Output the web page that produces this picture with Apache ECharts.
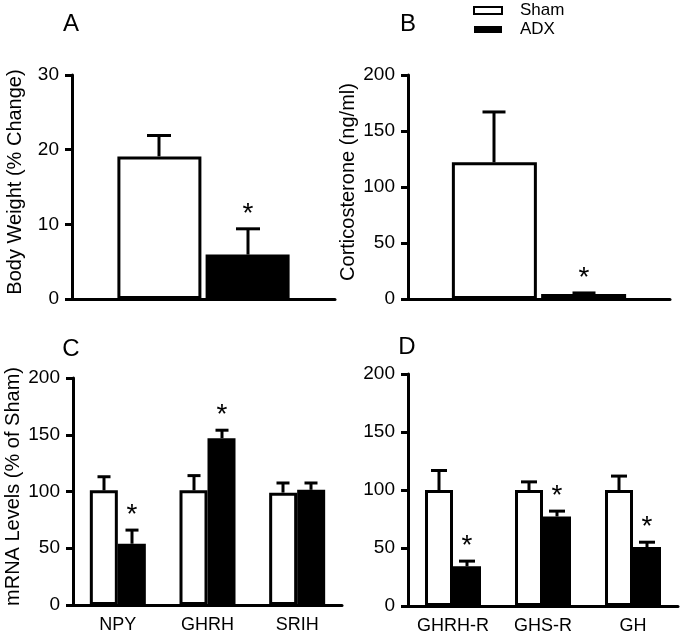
<!DOCTYPE html>
<html><head><meta charset="utf-8">
<script src="https://cdn.jsdelivr.net/npm/echarts@6/dist/echarts.min.js"></script>
<style>html,body{margin:0;padding:0;background:#fff}#main{width:681px;height:636px}</style>
</head><body><div id="main"></div>
<script>
// ---- data ----
const groupNames = ['Sham', 'ADX'];
const panelLetters = ['A', 'B', 'C', 'D'];

const bwCats = ['Body Weight'];
const bwSham = [19.1];
const bwShamErr = [2.8];
const bwAdx = [5.95];
const bwAdxErr = [3.45];
const bwSig = [true];

const cortCats = ['Corticosterone'];
const cortSham = [122];
const cortShamErr = [45];
const cortAdx = [4.4];
const cortAdxErr = [1.0];
const cortSig = [true];

const hypoCats = ['NPY', 'GHRH', 'SRIH'];
const hypoSham = [101, 101, 99];
const hypoShamErr = [12, 13, 8.5];
const hypoAdx = [54, 147, 101.5];
const hypoAdxErr = [12, 7, 6];
const hypoSig = [true, true, false];

const pitCats = ['GHRH-R', 'GHS-R', 'GH'];
const pitSham = [100, 100, 100];
const pitShamErr = [16.8, 7, 12];
const pitAdx = [34.2, 77.2, 50.8];
const pitAdxErr = [4.5, 4.6, 4.2];
const pitSig = [true, true, true];

const yTitles = ['Body Weight (% Change)', 'Corticosterone (ng/ml)', 'mRNA Levels (% of Sham)', ''];
const yMax = [30, 200, 200, 200];
const yStep = [10, 50, 50, 50];

// ---- layout / style ----
const FONT = '"Liberation Sans", Arial, sans-serif';
const grids = [
  {left: 72, top: 75, width: 263, height: 224},
  {left: 408, top: 75, width: 262, height: 224},
  {left: 73, top: 378, width: 269, height: 227},
  {left: 408, top: 374, width: 270, height: 232}
];
const barW = [84, 85, 28, 28];
const barGapFrac = [0.05, 0.05, 0, 0];
const capW = [24, 23, 13, 16];
const nameGaps = [47, 50, 50, 50];

const panels = [
  {cats: bwCats, sham: bwSham, shamErr: bwShamErr, adx: bwAdx, adxErr: bwAdxErr, sig: bwSig},
  {cats: cortCats, sham: cortSham, shamErr: cortShamErr, adx: cortAdx, adxErr: cortAdxErr, sig: cortSig},
  {cats: hypoCats, sham: hypoSham, shamErr: hypoShamErr, adx: hypoAdx, adxErr: hypoAdxErr, sig: hypoSig},
  {cats: pitCats, sham: pitSham, shamErr: pitShamErr, adx: pitAdx, adxErr: pitAdxErr, sig: pitSig}
];

const xAxes = [], yAxes = [], series = [];
panels.forEach((p, i) => {
  xAxes.push({
    gridIndex: i, type: 'category', data: p.cats,
    axisLine: {lineStyle: {color: '#000', width: 3}},
    axisTick: {show: false},
    axisLabel: {show: i >= 2, fontSize: 18, color: '#000', margin: 11, fontFamily: FONT, interval: 0}
  });
  yAxes.push({
    gridIndex: i, type: 'value', min: 0, max: yMax[i], interval: yStep[i],
    axisLine: {show: true, lineStyle: {color: '#000', width: 3}},
    axisTick: {show: true, length: 7, lineStyle: {color: '#000', width: 3}},
    axisLabel: {fontSize: 19, color: '#000', margin: 13, fontFamily: FONT},
    splitLine: {show: false},
    name: yTitles[i], nameLocation: 'middle', nameGap: nameGaps[i],
    nameTextStyle: {fontSize: 20, color: '#000', fontFamily: FONT, padding: [0, 0, 0, 10]}
  });
  const w = barW[i], g = barGapFrac[i];
  series.push({
    name: groupNames[0], type: 'bar', xAxisIndex: i, yAxisIndex: i, data: p.sham,
    barWidth: w, barGap: (g * 100) + '%',
    itemStyle: {color: '#fff', borderColor: '#000', borderWidth: 3}
  });
  series.push({
    name: groupNames[1], type: 'bar', xAxisIndex: i, yAxisIndex: i, data: p.adx,
    barWidth: w, barGap: (g * 100) + '%',
    itemStyle: {color: '#000', borderColor: '#000', borderWidth: 3}
  });
  const off = w * (1 + g) / 2;
  const mkErr = (vals, errs, side, sigs) => ({
    type: 'custom', xAxisIndex: i, yAxisIndex: i, silent: true, z: 3,
    encode: {x: 0, y: [1, 2]},
    data: p.cats.map((c, j) => [j, vals[j], vals[j] + errs[j], sigs ? (sigs[j] ? 1 : 0) : 0]),
    renderItem: (params, api) => {
      const b = api.coord([api.value(0), api.value(1)]);
      const t = api.coord([api.value(0), api.value(2)]);
      const cx = Math.round(b[0] + side * off);
      const children = [
        {type: 'line', shape: {x1: cx, y1: b[1], x2: cx, y2: t[1]}, style: {stroke: '#000', lineWidth: 3}},
        {type: 'line', shape: {x1: cx - capW[i] / 2, y1: t[1], x2: cx + capW[i] / 2, y2: t[1]}, style: {stroke: '#000', lineWidth: 3}}
      ];
      if (api.value(3)) {
        children.push({type: 'text', x: cx, y: t[1] - 15,
          style: {text: '*', font: '28px ' + FONT, fill: '#000', align: 'center', verticalAlign: 'middle'}});
      }
      return {type: 'group', children};
    }
  });
  series.push(mkErr(p.sham, p.shamErr, -1, null));
  series.push(mkErr(p.adx, p.adxErr, 1, p.sig));
});

const letterPos = [[71, 24], [408, 24], [71, 349], [407, 347]];
const graphic = panelLetters.map((L, i) => ({
  type: 'text', x: letterPos[i][0], y: letterPos[i][1],
  style: {text: L, font: '24px ' + FONT, fill: '#000', align: 'center', verticalAlign: 'middle'}
}));

const chart = echarts.init(document.getElementById('main'), null, {renderer: 'canvas'});
chart.setOption({
  animation: false,
  backgroundColor: '#fff',
  textStyle: {fontFamily: FONT},
  grid: grids.map(g => Object.assign({containLabel: false}, g)),
  xAxis: xAxes,
  yAxis: yAxes,
  legend: {
    orient: 'vertical', left: 473, top: 2, padding: 0, itemWidth: 28, itemHeight: 7, itemGap: 2,
    icon: 'rect',
    data: [
      {name: 'Sham', itemStyle: {color: '#fff', borderColor: '#000', borderWidth: 2}},
      {name: 'ADX', itemStyle: {color: '#000', borderColor: '#000', borderWidth: 0}}
    ],
    textStyle: {fontSize: 17, color: '#000', fontFamily: FONT, padding: [0, 0, 0, 13]}
  },
  graphic: graphic,
  series: series
});
</script>
</body></html>
